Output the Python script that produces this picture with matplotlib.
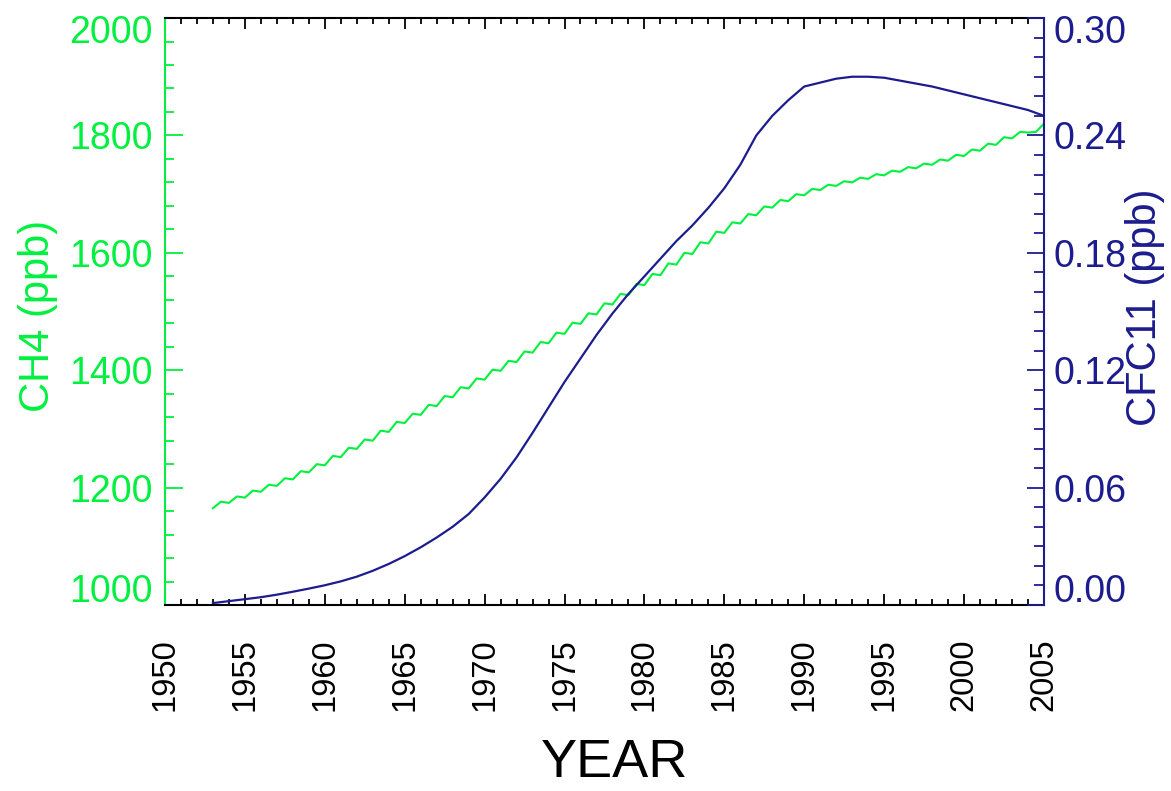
import numpy as np
import matplotlib
matplotlib.use("Agg")
import matplotlib.pyplot as plt
import matplotlib.transforms as mtransforms
from matplotlib import font_manager
from matplotlib.ticker import MultipleLocator

# data
years = list(range(1953, 2006))
# CH4 (ppb) at start of each year and at mid-year
ch4_jan = [1165, 1174, 1183, 1193, 1203, 1214, 1226, 1238, 1252, 1266, 1280, 1295, 1310,
           1324, 1339, 1354, 1369, 1384, 1399, 1414, 1430, 1446, 1462, 1479, 1495, 1512,
           1528, 1545, 1562, 1580, 1598, 1616, 1634, 1650, 1664, 1677, 1688, 1698, 1707,
           1714, 1720, 1726, 1732, 1738, 1744, 1750, 1757, 1765, 1774, 1784, 1795, 1805, 1820]
ch4_jul = [1176, 1185, 1195, 1205, 1216, 1228, 1240, 1254, 1268, 1282, 1297, 1312, 1326,
           1341, 1356, 1371, 1386, 1401, 1416, 1432, 1448, 1464, 1481, 1497, 1514, 1530,
           1547, 1564, 1582, 1600, 1618, 1636, 1652, 1666, 1679, 1690, 1700, 1709, 1716,
           1722, 1728, 1734, 1740, 1746, 1752, 1759, 1767, 1776, 1786, 1797, 1806, 1806]
# CFC11 (ppb), annual
cfc11 = [0.001, 0.002, 0.003, 0.004, 0.0053, 0.0068, 0.0084, 0.0101, 0.0121, 0.0145, 0.0175,
         0.021, 0.025, 0.0295, 0.0345, 0.040, 0.0465, 0.055, 0.0645, 0.0755, 0.088, 0.101,
         0.114, 0.126, 0.138, 0.149, 0.159, 0.168, 0.177, 0.186, 0.194, 0.203, 0.213,
         0.225, 0.240, 0.250, 0.258, 0.265, 0.267, 0.269, 0.270, 0.270, 0.2695, 0.268,
         0.2665, 0.265, 0.263, 0.261, 0.259, 0.257, 0.255, 0.253, 0.250]

x_ticks = list(range(1950, 2010, 5))
ch4_ticks = [1000, 1200, 1400, 1600, 1800, 2000]
cfc_ticks = [0.00, 0.06, 0.12, 0.18, 0.24, 0.30]

GREEN = "#00f040"
NAVY = "#1c1c8e"

installed = {f.name for f in font_manager.fontManager.ttflist}
if "Liberation Sans Narrow" in installed:
    narrow, tick_fs, year_fs = "Liberation Sans Narrow", 30, 43
else:
    narrow, tick_fs, year_fs = "Liberation Sans", 27, 39
plt.rcParams["font.family"] = ["Liberation Sans", "DejaVu Sans"]

# interleave start-of-year and mid-year CH4 values
ch4_x, ch4_y = [], []
for i, yr in enumerate(years):
    ch4_x.append(yr)
    ch4_y.append(ch4_jan[i])
    if i < len(ch4_jul):
        ch4_x.append(yr + 0.5)
        ch4_y.append(ch4_jul[i])

fig = plt.figure(figsize=(11.71, 7.91), dpi=100)
ax = fig.add_axes([0.1409, 0.2351, 0.7506, 0.7421])
ax2 = ax.twinx()

ax.plot(ch4_x, ch4_y, color=GREEN, lw=1.5, zorder=3)
ax2.plot(years, cfc11, color=NAVY, lw=1.6)

ax.set_xlim(1950, 2005)
ax.set_ylim(1000, 2000)
ax2.set_ylim(0, 0.30)

# spines
ax.spines["left"].set_color(GREEN)
ax.spines["left"].set_linewidth(1.5)
ax.spines["right"].set_visible(False)
for s in ("top", "bottom"):
    ax.spines[s].set_color("black")
    ax.spines[s].set_linewidth(1.5)
for s in ("top", "bottom", "left"):
    ax2.spines[s].set_visible(False)
ax2.spines["right"].set_color(NAVY)
ax2.spines["right"].set_linewidth(1.5)

# x axis
ax.set_xticks(x_ticks)
ax.set_xticklabels([str(v) for v in x_ticks], rotation=90, fontsize=23.5)
ax.xaxis.set_minor_locator(MultipleLocator(1))
ax.tick_params(axis="x", which="both", direction="in", top=True, color="black", width=1.3)
ax.tick_params(axis="x", which="major", length=8, pad=24)
ax.tick_params(axis="x", which="minor", length=4.5)
ax.set_xlabel("YEAR", fontsize=year_fs, family=narrow, va="center")
ax.xaxis.set_label_coords(0.511, -0.269)

# left axis
ax.set_yticks(ch4_ticks)
ax.set_yticklabels([str(v) for v in ch4_ticks], fontsize=tick_fs, family=narrow, color=GREEN)
ax.yaxis.set_minor_locator(MultipleLocator(40))
ax.tick_params(axis="y", which="both", direction="in", color=GREEN, width=1.3, right=False)
ax.tick_params(axis="y", which="major", length=13, pad=9)
ax.tick_params(axis="y", which="minor", length=6.5)
ax.set_ylabel("CH4 (ppb)", fontsize=30, color=GREEN, va="center", ha="center")
ax.yaxis.set_label_coords(-0.145, 0.492)

# right axis
ax2.set_yticks(cfc_ticks)
ax2.set_yticklabels(["%.2f" % v for v in cfc_ticks], fontsize=tick_fs, family=narrow, color=NAVY)
ax2.yaxis.set_minor_locator(MultipleLocator(0.01))
ax2.tick_params(axis="y", which="both", direction="in", color=NAVY, width=1.3)
ax2.tick_params(axis="y", which="major", length=12.5, pad=7)
ax2.tick_params(axis="y", which="minor", length=7)
ax2.set_ylabel("CFC11 (ppb)", fontsize=30, color=NAVY, rotation=90, va="center", ha="center")
ax2.yaxis.set_label_coords(1.115, 0.508)

# nudge end labels inside the frame as in the original
def nudge(lbl, dy_px):
    off = mtransforms.ScaledTranslation(0, dy_px / 100.0, fig.dpi_scale_trans)
    lbl.set_transform(lbl.get_transform() + off)

for a in (ax, ax2):
    labels = a.get_yticklabels()
    nudge(labels[0], 17)
    nudge(labels[-1], -11)

fig.savefig("out.png", dpi=100)
